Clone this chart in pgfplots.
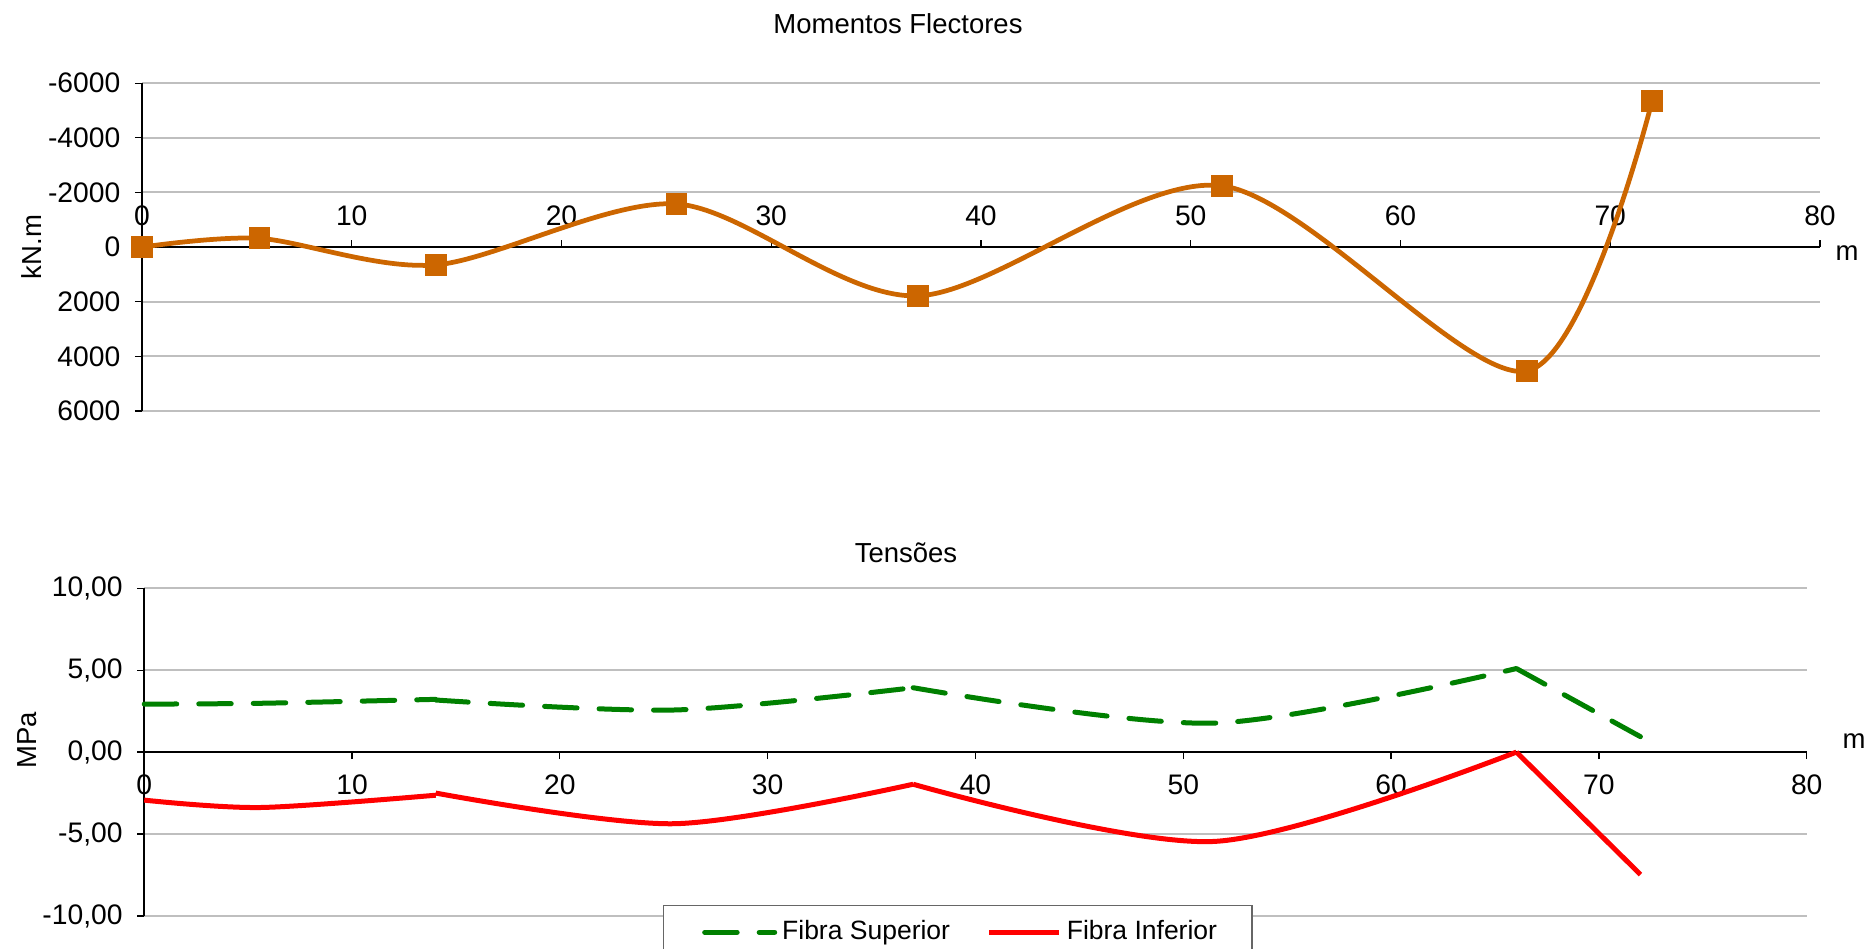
\documentclass[border=0pt]{standalone}
\usepackage{pgfplots}
\pgfplotsset{compat=1.18}
\usepackage{fontspec}
\setmainfont{Liberation Sans}
\definecolor{morange}{RGB}{204,102,0}
\definecolor{mgreen}{RGB}{0,128,0}
\definecolor{gridgray}{RGB}{191,191,191}
\begin{document}
\fontsize{11}{13}\selectfont
\begin{tikzpicture}[x=1pt,y=1pt]
\pgfplotsset{
 common/.style={
  scale only axis,
  anchor=south west,
  xmin=0,xmax=80,xtick={0,10,...,80},
  axis x line=middle, axis y line=left,
  hide obscured x ticks=false, hide obscured y ticks=false,
  ymajorgrids, grid style={gridgray, line width=0.8pt},
  tick style={black, line width=0.5pt},
  major tick length=2.8pt,
  ytick align=outside,
  every tick label/.append style={font=\fontsize{11.3}{13.5}\selectfont},
  yticklabel style={xshift=-2pt},
  /pgf/number format/assume math mode=true,
  axis line style={-, line width=0.6pt},
  unbounded coords=jump,
  clip=false,
 }
}
\begin{axis}[common, at={(56.8pt,215.2pt)}, width=671.2pt, height=131.1pt,
  y dir=reverse, ymin=-6000,ymax=6000, ytick={-6000,-4000,...,6000},
  yticklabel style={/pgf/number format/1000 sep={}},
  xtick align=outside,
  xticklabel style={anchor=base, yshift=11.5pt},
]
\addplot[morange, line width=1.9pt, smooth, tension=0.5, mark=square*, mark size=3.4pt, mark options={solid}] coordinates {
(0,0) (5.6,-320) (14.02,650) (25.48,-1580) (36.98,1785) (51.48,-2245) (66.03,4535) (72.0,-5360)
};
\end{axis}
\begin{axis}[common, at={(57.7pt,13.2pt)}, width=665pt, height=131.1pt,
  ymin=-10,ymax=10, ytick={-10,-5,...,10},
  yticklabel style={/pgf/number format/.cd, fixed, fixed zerofill, precision=2, use comma},
  xtick align=outside,
  xticklabel style={anchor=base, yshift=-14.1pt},
  legend columns=2,
  legend cell align=left,
  legend image code/.code={\path (0pt,0pt); \draw[#1] (3.4pt,0pt) -- (31.4pt,0pt);},
  legend style={at={(0.312,0.034)}, anchor=north west, draw=gray!80!black, line width=0.6pt,
    inner xsep=12pt, inner ysep=4pt, font=\fontsize{10.6}{12.7}\selectfont,
    /tikz/every even column/.append style={column sep=9.3pt}},
]
\addplot[mgreen, line width=2pt, smooth, tension=0.5, line cap=round, dash pattern=on 13pt off 8.8pt] coordinates {
(0,2.93) (5.6,2.98) (14.03,3.22) (14.03,nan)
(14.03,3.18) (25.5,2.57) (37,3.93) (37,nan)
(37,3.93) (51.5,1.77) (66.03,5.1) (66.03,nan)
(66.03,5.1) (72,0.94)
};
\addlegendentry{Fibra Superior}
\addplot[red, line width=2pt, smooth, tension=0.5] coordinates {
(0,-2.93) (5.6,-3.38) (14.03,-2.63) (14.03,nan)
(14.03,-2.5) (25.5,-4.37) (37,-1.96) (37,nan)
(37,-1.96) (51.5,-5.45) (66.03,0.0) (66.03,nan)
(66.03,0.0) (72,-7.47)
};
\addlegendentry{Fibra Inferior}
\end{axis}
\node at (359.2,370) {Momentos Flectores};
\node at (362.4,158.4) {Tensões};
\node[rotate=90] at (12.8,280.8) {kN.m};
\node[rotate=90] at (10.8,83.6) {MPa};
\node at (738.8,278.4) {m};
\node at (741.6,83.2) {m};
\pgfresetboundingbox
\path[use as bounding box] (0,0) rectangle (748,379.6);
\end{tikzpicture}
\end{document}
